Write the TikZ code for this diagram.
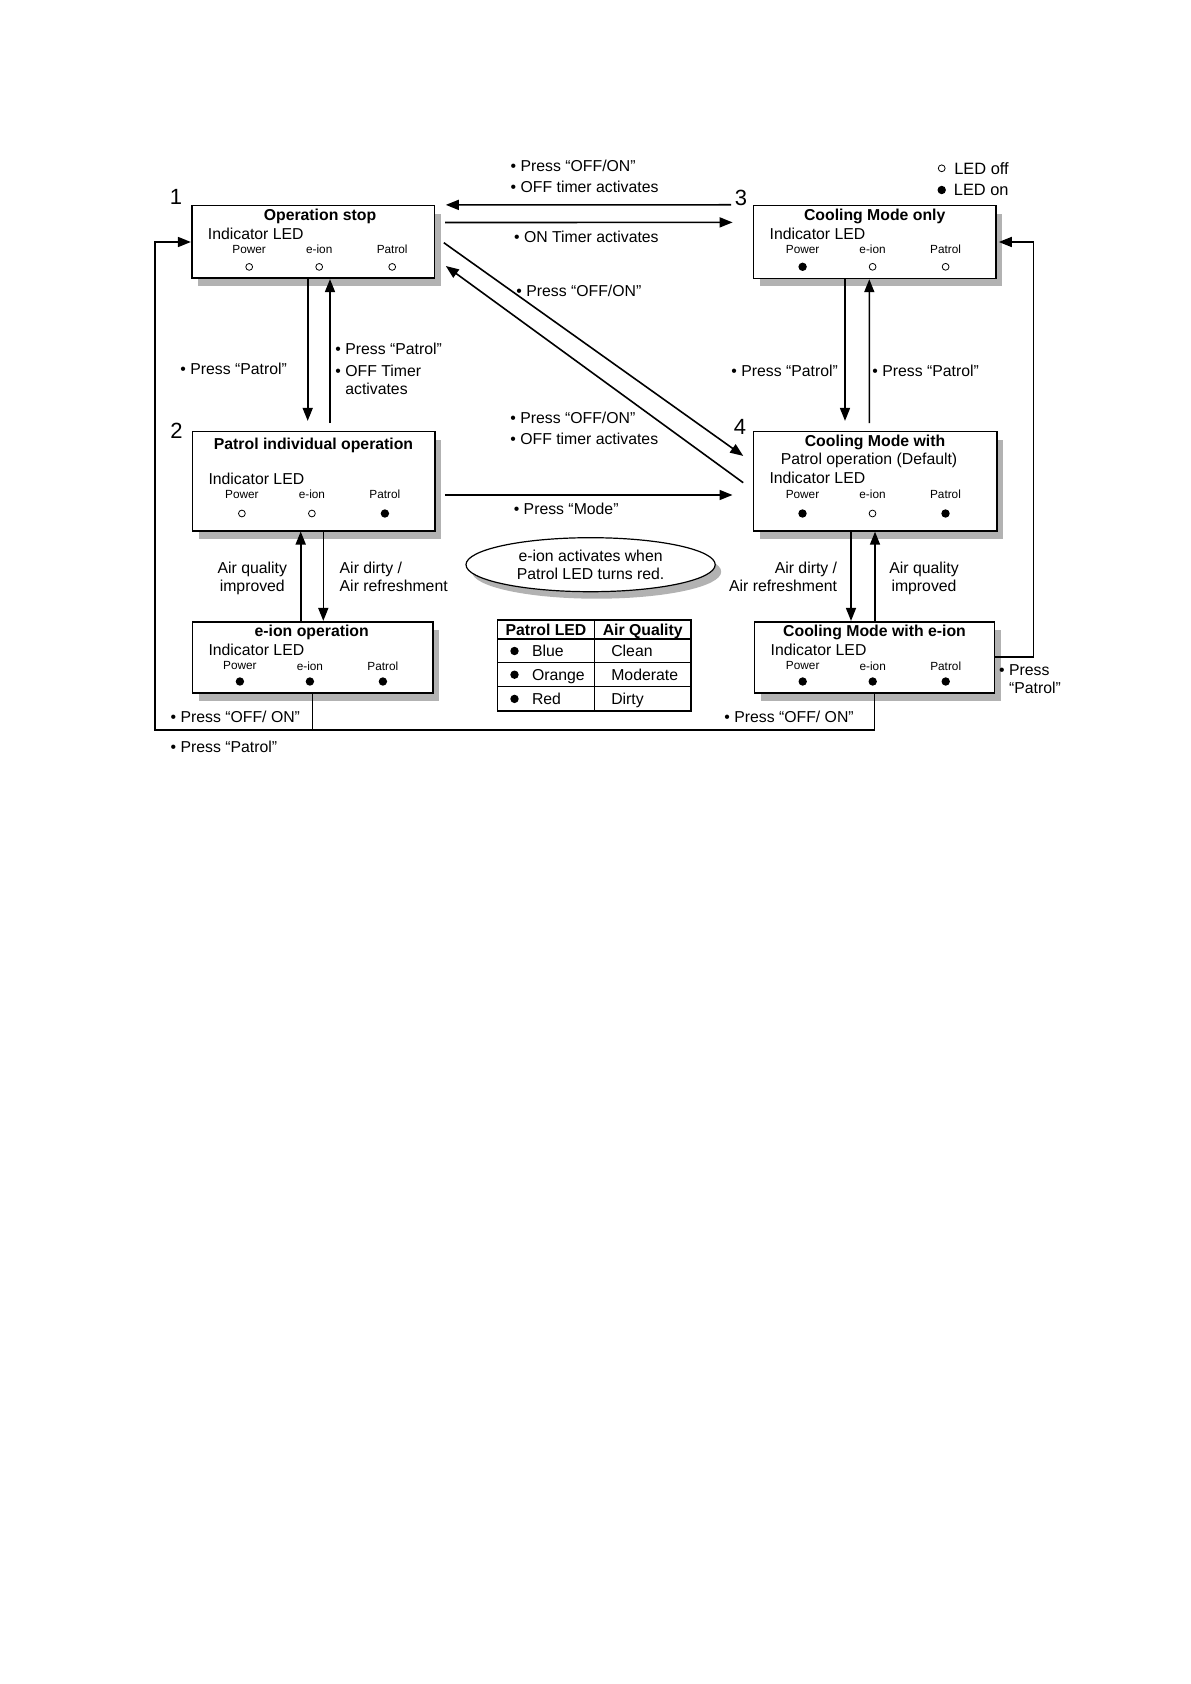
\documentclass[tikz,border=0pt]{standalone}
\usepackage{fontspec}
\setmainfont{Liberation Sans}
\usetikzlibrary{arrows.meta,calc,positioning,shapes.geometric,shadows}

\tikzset{
  box/.style={draw, line width=0.8pt, fill=white, inner sep=0pt,
    drop shadow={shadow xshift=3.2pt, shadow yshift=-4pt, fill=black!30, opacity=1}},
  note/.style={ellipse, draw, line width=0.6pt, fill=white, inner sep=0pt,
    minimum width=124.6pt, minimum height=27pt, align=center,
    font=\fontsize{7.9}{9.2}\selectfont,
    drop shadow={shadow xshift=3pt, shadow yshift=-3.5pt, fill=black!30, opacity=1}},
  title/.style={font=\bfseries\fontsize{7.9}{9}\selectfont, inner sep=0pt, text height=5.7pt, text depth=0pt},
  ind/.style={font=\fontsize{7.9}{9}\selectfont, inner sep=0pt, anchor=west, text height=5.7pt, text depth=0pt},
  bul/.style={font=\fontsize{7.9}{10.85}\selectfont, inner sep=0pt, anchor=north west, align=left},
  pair/.style={font=\fontsize{7.9}{9}\selectfont, inner sep=0pt, anchor=north, align=center},
  small/.style={font=\fontsize{5.9}{7}\selectfont, inner sep=0pt},
  num/.style={font=\fontsize{11}{13}\selectfont, inner sep=0pt, text height=7.9pt, text depth=0pt},
  key/.style={font=\fontsize{8.2}{9}\selectfont, inner sep=0pt, text height=5.9pt, text depth=0pt},
  ledon/.style={circle, fill=black, inner sep=0pt, minimum size=4.2pt},
  ledoff/.style={circle, draw, line width=0.4pt, inner sep=0pt, minimum size=3.4pt},
  conn/.style={line width=0.8pt, -{Triangle[length=6.5pt, width=5pt]}},
  grid line/.style={line width=0.6pt}
}

% labels and LEDs of one box: box, first x, label y, LED gap, three states
\newcommand{\ledrow}[7]{%
  \foreach \lbl/\dx/\st [count=\i] in {Power/0/#5,e-ion/70/#6,Patrol/143/#7} {
    \node[small] (#1-l\i) at ($(#1.north west)+(#2+\dx,#3)$) {\lbl};
    \node[\st] (#1-d\i) at ($(#1.north west)+(#2+\dx,#3+#4)$) {};
  }}

\begin{document}
\begin{tikzpicture}[x=0.5pt, y=-0.5pt]
\useasboundingbox (0,0) rectangle (1190,1684);

% state boxes
\node[box, minimum width=121.3pt, minimum height=36.3pt] (stop) at (313,242) {};
\node[box, minimum width=121.3pt, minimum height=36.4pt] (cool) at (874.7,242) {};
\node[box, minimum width=121.2pt, minimum height=49.5pt] (patrol) at (313.5,481.2) {};
\node[box, minimum width=121.7pt, minimum height=49.6pt] (coolpat) at (875,481.3) {};
\node[box, minimum width=120.2pt, minimum height=35.5pt] (eion) at (312.5,657.2) {};
\node[box, minimum width=120pt, minimum height=35.5pt] (cooleion) at (874.5,657.2) {};

% box numbers
\node[num] (n1) at ($(stop.north west)+(-15,-8.7)$) {1};
\node[num] (n2) at ($(patrol.north west)+(-15,0)$) {2};
\node[num] (n3) at ($(cool.north west)+(-11.6,-7.4)$) {3};
\node[num] (n4) at ($(coolpat.north west)+(-12.6,-4.7)$) {4};

% titles
\node[title] (stop-t) at ($(stop.north)+(7,10.3)$) {Operation stop};
\node[title] (cool-t) at ($(cool.north)+(0,10.3)$) {Cooling Mode only};
\node[title] (patrol-t) at ($(patrol.north)+(0,13.3)$) {Patrol individual operation};
\node[title] (coolpat-t) at ($(coolpat.north)+(0,10)$) {Cooling Mode with};
\node[ind, anchor=center] (coolpat-t2) at ($(coolpat.north)+(-6,28.3)$) {Patrol operation (Default)};
\node[title] (eion-t) at ($(eion.north)+(-0.8,10)$) {e-ion operation};
\node[title] (cooleion-t) at ($(cooleion.north)+(0,10)$) {Cooling Mode with e-ion};

\foreach \b/\dy in {stop/29.3, cool/29.3, patrol/47.6, coolpat/47.3, eion/29.3, cooleion/29.3}
  \node[ind] (\b-i) at ($(\b.north west)+(16.6,\dy)$) {Indicator LED};

\ledrow{stop}{58.3}{44.3}{17.7}{ledoff}{ledoff}{ledoff}
\ledrow{cool}{50}{44.3}{17.7}{ledon}{ledoff}{ledoff}
\ledrow{patrol}{50.4}{63.3}{19.3}{ledoff}{ledoff}{ledon}
\ledrow{coolpat}{50}{63.3}{19.3}{ledon}{ledoff}{ledon}
\ledrow{eion}{48.4}{45}{15.6}{ledon}{ledon}{ledon}
\ledrow{cooleion}{49}{45}{15.6}{ledon}{ledon}{ledon}

% transitions
\draw[conn] ($(cool.north west)+(-21.6,0)$) -- ($(stop.north east)+(10.7,0)$);
\draw[conn] ($(stop.north east)+(10,17.6)$) -- ($(cool.north west)+(-20,17.6)$);
\draw[conn] ($(stop.east)+(8.7,0.7)$) -- ($(coolpat.north west)+(-9.3,25)$);
\draw[conn] ($(coolpat.west)+(-9.3,1.4)$) -- ($(stop.east)+(10.7,24)$);
\draw[conn] ($(stop.south)+(-5.3,0)$) -- ($(patrol.north)+(-5.8,-10)$);
\draw[conn] ($(patrol.north)+(16.5,-7.7)$) -- ($(stop.south)+(17,0)$);
\draw[conn] ($(cool.south)+(-29.7,0)$) -- ($(coolpat.north)+(-30,-10)$);
\draw[conn] ($(coolpat.north)+(-5.7,-7.7)$) -- ($(cool.south)+(-5.4,0)$);
\draw[conn] ($(patrol.east)+(9.3,13.8)$) -- ($(coolpat.west)+(-20,13.7)$);
\draw[conn] ($(eion.north)+(-11.8,0)$) -- ($(patrol.south)+(-12.8,0)$);
\draw[conn] ($(patrol.south)+(9.8,0)$) -- ($(eion.north)+(10.8,0)$);
\draw[conn] ($(coolpat.south)+(-24,0)$) -- ($(cooleion.north)+(-23.5,0)$);
\draw[conn] ($(cooleion.north)+(0.5,0)$) -- (coolpat.south);
\draw[conn] (cooleion.east) -- ++(38,0) |- ($(cool.east)+(2,0)$);
\draw[line width=0.8pt] (eion.south) -- ++(0,36.5);
\draw[conn] (cooleion.south) -- ++(0,36.5) -| ($(stop.west)+(-36,0)$) -- (stop.west);

% transition labels
\node[bul] (t1) at (510.3,159.3) {\textbullet\ Press “OFF/ON”\\\textbullet\ OFF timer activates};
\node[bul] (t2) at (513.7,231) {\textbullet\ ON Timer activates};
\node[bul] (t3) at (516,285) {\textbullet\ Press “OFF/ON”};
\node[bul] (t4) at (510,411.3) {\textbullet\ Press “OFF/ON”\\\textbullet\ OFF timer activates};
\node[bul] (t5) at (513.4,502.6) {\textbullet\ Press “Mode”};
\node[bul] (t6) at (180,362.6) {\textbullet\ Press “Patrol”};
\node[bul] (t7) at (335,342.6) {\textbullet\ Press “Patrol”\\\textbullet\ OFF Timer\\[-1.85pt]\phantom{\textbullet\ }activates};
\node[bul] (t8) at (731,364.3) {\textbullet\ Press “Patrol”};
\node[bul] (t9) at (872,364.3) {\textbullet\ Press “Patrol”};
\node[pair] (t10) at (252.3,561.3) {Air quality\\improved};
\node[pair, anchor=north west, align=left] (t11) at (339.3,561.3) {Air dirty /\\Air refreshment};
\node[pair, anchor=north east, align=right] (t12) at (837.5,561.3) {Air dirty /\\Air refreshment};
\node[pair] (t13) at (924,561.3) {Air quality\\improved};
\node[bul] (t14) at (170.3,711) {\textbullet\ Press “OFF/ ON”};
\node[bul] (t15) at (724,711) {\textbullet\ Press “OFF/ ON”};
\node[bul] (t16) at (170.3,740.3) {\textbullet\ Press “Patrol”};
\node[bul] (t17) at (998.7,664.3) {\textbullet\ Press\\[-1.85pt]\phantom{\textbullet\ }“Patrol”};

% legend
\node[ledoff] (keyoff) at (941.7,168.3) {};
\node[key, right=4.2pt of keyoff] (keyofft) {LED off};
\node[ledon] (keyon) at (941.7,190) {};
\node[key, right=3.6pt of keyon] (keyont) {LED on};

% note
\node[note] (note) at (590.6,564.7) {e-ion activates when\\Patrol LED turns red.};

% colour table
\draw[grid line] (497.5,620) rectangle (690.9,711);
\foreach \y in {639,662.7,686.7}
  \draw[grid line] (497.5,\y) -- (690.9,\y);
\draw[grid line] (594.5,620) -- (594.5,711);
\node[title] (th1) at (546,629.5) {Patrol LED};
\node[title] (th2) at (642.7,629.5) {Air Quality};
\foreach \c/\q/\y [count=\i] in {Blue/Clean/651, Orange/Moderate/674.7, Red/Dirty/698.9} {
  \node[ledon] (tb\i) at (514.5,\y) {};
  \node[ind] (tc\i) at (531.6,\y) {\c};
  \node[ind] (tq\i) at (610.9,\y) {\q};
}

\end{tikzpicture}
\end{document}
